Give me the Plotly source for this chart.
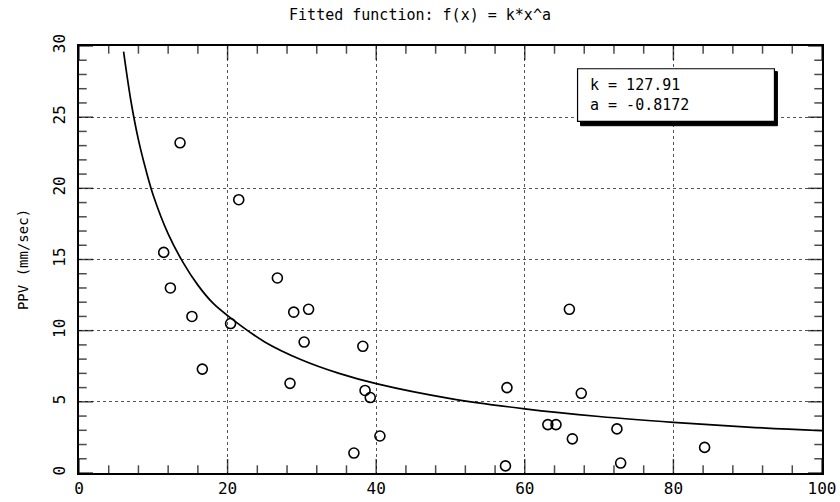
import plotly.graph_objects as go

# Observed data (distance vs PPV)
obs_x = [13.6, 21.5, 11.4, 26.7, 12.3, 15.2, 28.9, 30.9, 20.4, 30.3, 38.2, 16.6, 28.4,
         38.5, 39.2, 40.5, 37.0, 66.0, 57.6, 67.6, 63.1, 64.2, 66.4, 72.4, 84.2, 57.4, 72.9]
obs_y = [23.2, 19.2, 15.5, 13.7, 13.0, 11.0, 11.3, 11.5, 10.5, 9.2, 8.9, 7.3, 6.3,
         5.8, 5.3, 2.6, 1.4, 11.5, 6.0, 5.6, 3.4, 3.4, 2.4, 3.1, 1.8, 0.5, 0.7]

# Fitted curve
fit_x = [6.0, 7, 8, 9, 10, 12, 14, 16, 18, 20, 25, 30, 35, 40, 50, 60, 70, 80, 90, 100]
fit_y = [29.6, 26.1, 23.4, 21.3, 19.5, 16.8, 14.8, 13.2, 11.95, 11.06, 9.21, 7.94, 7.0,
         6.28, 5.23, 4.51, 3.97, 3.56, 3.23, 2.97]

x_range = [0, 100]
y_range = [0, 30]
x_major, x_minor = 20, 4
y_major, y_minor = 5, 1

k_label = "k = 127.91"
a_label = "a = -0.8172"

FONT = "DejaVu Sans Mono"

fig = go.Figure()
fig.add_trace(go.Scatter(x=fit_x, y=fit_y, mode="lines", line=dict(color="black", width=1.7, shape="spline"),
                         hoverinfo="skip", showlegend=False))
fig.add_trace(go.Scatter(x=obs_x, y=obs_y, mode="markers",
                         marker=dict(symbol="circle-open", size=10, color="black", line=dict(width=1.6)),
                         showlegend=False))

# tick marks on all four sides (clipped to the plot area so they point inwards)
xt = list(range(x_range[0], x_range[1] + 1, x_minor))
xt_size = [20 if v % x_major == 0 else 11 for v in xt]
fig.add_trace(go.Scatter(x=xt + xt, y=[y_range[0]] * len(xt) + [y_range[1]] * len(xt), mode="markers",
                         marker=dict(symbol="line-ns", size=xt_size + xt_size, color="black",
                                     line=dict(width=1.5, color="black")),
                         hoverinfo="skip", showlegend=False))
yt = list(range(y_range[0], y_range[1] + 1, y_minor))
yt_size = [20 if v % y_major == 0 else 11 for v in yt]
fig.add_trace(go.Scatter(x=[x_range[0]] * len(yt) + [x_range[1]] * len(yt), y=yt + yt, mode="markers",
                         marker=dict(symbol="line-ew", size=yt_size + yt_size, color="black",
                                     line=dict(width=1.5, color="black")),
                         hoverinfo="skip", showlegend=False))

# legend box with shadow
fig.add_shape(type="rect", x0=67.5, x1=94.0, y0=24.4, y1=28.2, xref="x", yref="y",
              fillcolor="black", line=dict(color="black", width=1), layer="above")
fig.add_shape(type="rect", x0=67.1, x1=93.6, y0=24.7, y1=28.4, xref="x", yref="y",
              fillcolor="white", line=dict(color="black", width=1.2), layer="above")
fig.add_annotation(x=68.5, y=26.55, xref="x", yref="y", xanchor="left", yanchor="middle",
                   text=k_label + "<br>" + a_label, showarrow=False, align="left",
                   font=dict(family=FONT, size=15, color="black"))

common = dict(showline=True, linecolor="black", linewidth=2, mirror=True, zeroline=False,
              automargin=False, tick0=0, ticks="", showgrid=True, gridcolor="#555", griddash="dot", gridwidth=1)

fig.update_layout(
    width=840, height=502,
    margin=dict(l=79, r=18, t=46, b=29),
    paper_bgcolor="white", plot_bgcolor="white",
    title=dict(text="Fitted function: f(x) = k*x^a", x=0.5, xanchor="center", y=0.97, yanchor="middle",
               font=dict(family=FONT, size=15, color="black")),
    font=dict(family=FONT, color="black"),
    xaxis=dict(range=x_range, dtick=x_major,
               tickfont=dict(family=FONT, size=16, color="black"), **common),
    yaxis=dict(range=y_range, dtick=y_major, ticklabelstandoff=6,
               tickangle=-90, tickfont=dict(family=FONT, size=16, color="black"),
               title=dict(text="PPV (mm/sec)", font=dict(family=FONT, size=14, color="black"), standoff=18),
               **common),
)

fig.write_html("out.html", config={"displayModeBar": False},
               post_script="document.body.style.margin='0';document.body.style.overflow='hidden';")
